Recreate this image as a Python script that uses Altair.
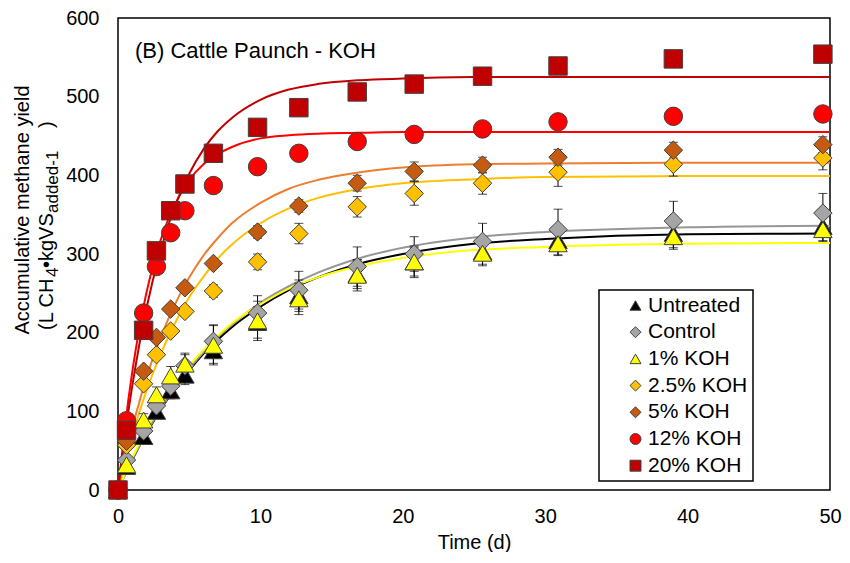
import altair as alt
import pandas as pd

# ---------------- data ----------------
series = ["Untreated", "Control", "1% KOH", "2.5% KOH", "5% KOH", "12% KOH", "20% KOH"]
shapes = ["triangle-up", "diamond", "triangle-up", "diamond", "diamond", "circle", "square"]
fill_colors = ["#000000", "#A5A5A5", "#FFFF00", "#FFC000", "#C55A11", "#FF0000", "#C00000"]
line_colors = ["#000000", "#969696", "#FFFF00", "#FFC000", "#ED7D31", "#FF0000", "#C00000"]

days = [0, 0.6, 1.8, 2.7, 3.7, 4.7, 6.7, 9.8, 12.7, 16.8, 20.8, 25.6, 30.9, 39.0, 49.5]

untreated = [0, 30, 68, 100, 126, 146, 177, 213, 247, 274, 290, 303, 317, 326, 335]
control = [0, 38, 75, 107, 132, 158, 189, 225, 254, 284, 300, 316, 331, 342, 352]
koh1 = [0, 32, 89, 121, 145, 160, 184, 215, 243, 273, 290, 301, 313, 322, 331]
koh25 = [0, 57, 135, 172, 202, 227, 253, 290, 326, 360, 377, 390, 404, 414, 422]
koh5 = [0, 62, 151, 194, 230, 257, 288, 328, 361, 390, 405, 413, 423, 432, 439]
koh12 = [0, 88, 225, 284, 327, 355, 387, 411, 428, 443, 452, 459, 468, 475, 478]
koh20 = [0, 76, 203, 304, 355, 389, 428, 461, 486, 506, 516, 526, 539, 548, 554]

untreated_err = [0, 4, 6, 8, 10, 12, 16, 20, 20, 18, 18, 18, 18, 18, 18]
control_err = [0, 5, 8, 10, 12, 14, 21, 22, 24, 25, 22, 23, 26, 25, 25]
koh1_err = [0, 5, 8, 10, 12, 14, 25, 25, 20, 20, 20, 14, 15, 16, 15]
koh25_err = [0, 3, 4, 5, 6, 6, 8, 10, 13, 13, 15, 14, 18, 15, 15]
koh5_err = [0, 3, 4, 5, 5, 6, 6, 8, 8, 10, 12, 10, 10, 10, 10]

fit_days = [0, 0.5, 1, 1.5, 2, 3, 4, 5, 6, 7, 8, 10, 12, 14, 17, 20, 25, 30, 40, 50]
fit_untreated = [0, 20, 38, 56, 72, 102, 129, 152, 173, 191, 207, 233, 254, 270, 288, 300, 313, 319, 325, 326]
fit_control = [0, 20, 39, 56, 73, 103, 130, 154, 175, 194, 210, 238, 259, 276, 295, 308, 321, 328, 334, 336]
fit_koh1 = [0, 21, 41, 59, 77, 108, 135, 158, 178, 196, 212, 236, 256, 270, 285, 295, 305, 309, 313, 314]
fit_koh25 = [0, 36, 69, 99, 126, 173, 212, 245, 271, 294, 312, 339, 358, 371, 383, 390, 395, 398, 399, 399]
fit_koh5 = [0, 42, 79, 112, 143, 194, 236, 270, 298, 320, 339, 365, 383, 394, 404, 410, 414, 415, 416, 416]
fit_koh12 = [0, 82, 150, 205, 251, 318, 363, 394, 414, 427, 436, 447, 451, 453, 454, 455, 455, 455, 455, 455]
fit_koh20 = [0, 71, 132, 185, 231, 305, 361, 402, 433, 456, 473, 496, 509, 516, 521, 523, 525, 525, 525, 525]

x_ticks = [0, 10, 20, 30, 40, 50]
y_ticks = [0, 100, 200, 300, 400, 500, 600]

FONT = "Liberation Sans"

# ---------------- tables ----------------
obs = [untreated, control, koh1, koh25, koh5, koh12, koh20]
errs = {"Untreated": untreated_err, "Control": control_err, "1% KOH": koh1_err,
        "2.5% KOH": koh25_err, "5% KOH": koh5_err}
fits = [fit_untreated, fit_control, fit_koh1, fit_koh25, fit_koh5, fit_koh12, fit_koh20]
curve_names = [s + " (fit)" for s in series]

pt_rows, err_rows, fit_rows = [], [], []
for i, s in enumerate(series):
    for t, v in zip(days, obs[i]):
        pt_rows.append({"day": t, "yield": v, "series": s, "order": i})
    if s in errs:
        for t, v, e in zip(days, obs[i], errs[s]):
            if e > 0:
                err_rows.append({"day": t, "lo": v - e, "hi": v + e, "series": s})
    for t, v in zip(fit_days, fits[i]):
        fit_rows.append({"day": t, "fit": v, "curve": curve_names[i], "order": i})

pts = pd.DataFrame(pt_rows)
err = pd.DataFrame(err_rows)
fit = pd.DataFrame(fit_rows)

xscale = alt.Scale(domain=[0, 50], nice=False, zero=False)
yscale = alt.Scale(domain=[0, 600], nice=False)

xax = alt.Axis(values=x_ticks, title="Time (d)", grid=False, domain=False, ticks=False,
               tickSize=0, labelPadding=16, titlePadding=6, labelFontSize=20,
               titleFontSize=20, titleFontWeight="normal", labelColor="black",
               titleColor="black", labelFont=FONT, titleFont=FONT, labelFlush=False)
yax = alt.Axis(values=y_ticks, title=None, grid=False, domain=False, ticks=False,
               tickSize=0, labelPadding=19, labelFontSize=20, labelColor="black",
               labelFont=FONT)

lines = alt.Chart(fit).mark_line(strokeWidth=2, interpolate="monotone", clip=True).encode(
    x=alt.X("day:Q", scale=xscale, axis=xax),
    y=alt.Y("fit:Q", scale=yscale, axis=yax),
    stroke=alt.Stroke("curve:N", scale=alt.Scale(domain=curve_names, range=line_colors),
                      legend=None),
    order="order:Q",
)

rules = alt.Chart(err).mark_rule(color="black", strokeWidth=1).encode(
    x="day:Q", y="lo:Q", y2="hi:Q")
caps_lo = alt.Chart(err).mark_tick(color="black", orient="horizontal", size=9, thickness=1).encode(
    x="day:Q", y="lo:Q")
caps_hi = alt.Chart(err).mark_tick(color="black", orient="horizontal", size=9, thickness=1).encode(
    x="day:Q", y="hi:Q")

leg = alt.Legend(title=None, orient="none", legendX=481, legendY=272,
                 labelExpr="datum.label + '\u00a0\u00a0\u00a0'")
points = alt.Chart(pts).mark_point(filled=True, size=340, stroke="#404040",
                                   strokeWidth=1, opacity=1).encode(
    x="day:Q",
    y="yield:Q",
    color=alt.Color("series:N", scale=alt.Scale(domain=series, range=fill_colors), legend=leg),
    shape=alt.Shape("series:N", scale=alt.Scale(domain=series, range=shapes), legend=leg),
    order="order:Q",
)

one = pd.DataFrame({"k": [0]})
panel_title = alt.Chart(one).mark_text(text="(B) Cattle Paunch - KOH", font=FONT, fontSize=22,
                                       align="left", baseline="middle", color="black").encode(
    x=alt.value(17), y=alt.value(33))

ytitle1 = alt.Chart(one).mark_text(text="Accumulative methane yield", font=FONT, fontSize=20,
                                   angle=270, align="center", baseline="middle",
                                   color="black").encode(x=alt.value(-95), y=alt.value(192))

pieces = [("(L CH", 20, -71, 312), ("4", 17, -65, 259), ("•kgVS", 20, -71, 250),
          ("added-1", 17, -65, 195), (")", 20, -71, 110)]
ytitle2 = []
for txt, fs, xx, yy in pieces:
    ytitle2.append(alt.Chart(one).mark_text(text=txt, font=FONT, fontSize=fs, angle=270,
                                            align="left", baseline="middle",
                                            color="black").encode(x=alt.value(xx), y=alt.value(yy)))

chart = alt.layer(lines, rules, caps_lo, caps_hi, points, panel_title, ytitle1, *ytitle2).properties(
    width=712, height=472,
    padding={"left": 110, "top": 10, "right": 12, "bottom": 62},
    autosize=alt.AutoSizeParams(type="none"),
).configure_view(stroke="black", strokeWidth=1.5).configure_legend(
    strokeColor="black", strokeWidth=1.5,
    fillColor="white", padding=5, labelFontSize=21, labelFont=FONT, labelColor="black",
    symbolSize=120, symbolOffset=21, labelOffset=2, rowPadding=4.7, symbolStrokeColor="#404040",
    symbolStrokeWidth=1,
)

chart.save("out.html", embed_options={"renderer": "svg", "actions": False})
